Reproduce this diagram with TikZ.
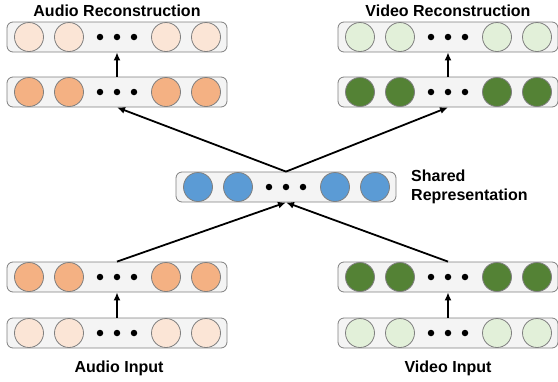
\documentclass[tikz,border=0pt]{standalone}
\usepackage{fontspec}
\setmainfont{Liberation Sans}
\usetikzlibrary{arrows.meta}
\definecolor{audlight}{HTML}{FBE5D6}
\definecolor{auddark}{HTML}{F4B183}
\definecolor{vidlight}{HTML}{E2F0D9}
\definecolor{viddark}{HTML}{548235}
\definecolor{shblue}{HTML}{5B9BD5}
\definecolor{boxfill}{HTML}{F4F4F4}
\definecolor{boxline}{HTML}{7F7F7F}
\tikzset{
  layerbox/.style={draw=boxline, fill=boxfill, line width=0.8pt, rounded corners=6pt,
    minimum width=220pt, minimum height=30pt, inner sep=0pt},
  unit/.style={circle, draw=boxline, line width=0.8pt, minimum size=29pt, inner sep=0pt},
  dotn/.style={circle, fill=black, minimum size=6.5pt, inner sep=0pt},
  conn/.style={line width=1.8pt, -{Latex[length=8pt,width=7pt]}},
  lbl/.style={font=\fontsize{16}{18}\selectfont\bfseries, inner sep=0pt}
}
\newcommand{\layer}[4]{% name, left x, center y, colour
  \node[layerbox] (#1) at (#2+110,#3) {};
  \node[unit, fill=#4] (#1c1) at (#2+22,#3) {};
  \node[unit, fill=#4] (#1c2) at (#2+62,#3) {};
  \node[dotn] (#1d1) at (#2+93,#3) {};
  \node[dotn] (#1d2) at (#2+110,#3) {};
  \node[dotn] (#1d3) at (#2+127,#3) {};
  \node[unit, fill=#4] (#1c3) at (#2+159,#3) {};
  \node[unit, fill=#4] (#1c4) at (#2+199,#3) {};
}
\begin{document}
\begin{tikzpicture}[x=1pt,y=-1pt]
\useasboundingbox (0,0) rectangle (558,381);
\layer{ar}{7}{37}{audlight}
\layer{ah}{7}{92}{auddark}
\layer{vr}{338}{37}{vidlight}
\layer{vh}{338}{92}{viddark}
\layer{sh}{176}{187}{shblue}
\layer{ae}{7}{277}{auddark}
\layer{ai}{7}{333}{audlight}
\layer{ve}{338}{277}{viddark}
\layer{vi}{338}{333}{vidlight}

\node[lbl, anchor=base] (arl) at (117,16) {Audio Reconstruction};
\node[lbl, anchor=base] (vrl) at (448,16) {Video Reconstruction};
\node[lbl, anchor=base] (ail) at (119,372) {Audio Input};
\node[lbl, anchor=base] (vil) at (448,372) {Video Input};
\node[lbl, anchor=north west, align=left, font=\fontsize{16}{18.5}\selectfont\bfseries] (shl) at (411,170) {Shared\\Representation};

\draw[conn] (ai.north) -- (ae.south);
\draw[conn] (vi.north) -- (ve.south);
\draw[conn] (ah.north) -- (ar.south);
\draw[conn] (vh.north) -- (vr.south);
\draw[conn] (ae.north) -- (sh.south);
\draw[conn] (ve.north) -- (sh.south);
\draw[conn] (sh.north) -- (ah.south);
\draw[conn] (sh.north) -- (vh.south);
\end{tikzpicture}
\end{document}
